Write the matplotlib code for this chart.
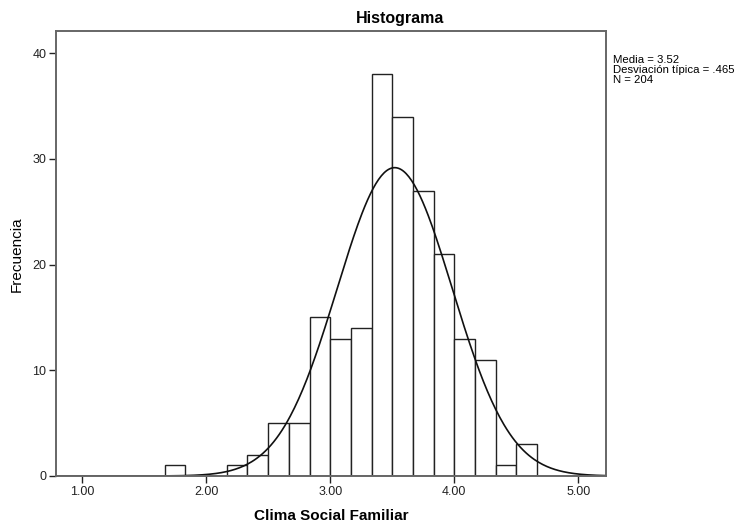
import numpy as np
import matplotlib.pyplot as plt

plt.rcParams['font.family'] = ['Liberation Sans', 'DejaVu Sans']

# bin edges start at 1.6667, width 1/6
bin_start = 5 / 3
bin_width = 1 / 6
counts = [1, 0, 0, 1, 2, 5, 5, 15, 13, 14, 38, 34, 27, 21, 13, 11, 1, 3]
media = 3.52
desv = 0.465
n_total = 204

xticks = [1, 2, 3, 4, 5]
xtick_labels = ['1.00', '2.00', '3.00', '4.00', '5.00']
yticks = [0, 10, 20, 30, 40]

fig = plt.figure(figsize=(7.4, 5.27), dpi=100)
ax = fig.add_axes([56 / 740, 1 - 476 / 527, 550 / 740, (476 - 31.5) / 527])

lefts = bin_start + bin_width * np.arange(len(counts))
ax.bar(lefts, counts, width=bin_width, align='edge', facecolor='white',
       edgecolor='#222222', linewidth=1.0)

# normal curve from the reported mean / sd
xs = np.linspace(0.79, 5.223, 400)
ys = n_total * bin_width / (desv * np.sqrt(2 * np.pi)) * np.exp(-0.5 * ((xs - media) / desv) ** 2)
ax.plot(xs, ys, color='#111111', linewidth=1.2)

ax.set_xlim(0.79, 5.223)
ax.set_ylim(0, 42.05)
ax.set_xticks(xticks)
ax.set_xticklabels(xtick_labels)
ax.set_yticks(yticks)
ax.tick_params(direction='out', length=5, width=1, labelsize=9, colors='#222222', pad=2)
for s in ax.spines.values():
    s.set_color('#666666')
    s.set_linewidth(1.4)

ax.set_xlabel('Clima Social Familiar', fontsize=11, fontweight='bold', labelpad=8)
ax.set_ylabel('Frecuencia', fontsize=11, labelpad=6)
fig.text(400 / 740, 1 - 18 / 527, 'Histograma', fontsize=11.5, fontweight='bold',
         ha='center', va='center')

fig.text(613 / 740, 1 - 55 / 527,
         'Media = 3.52\nDesviación típica = .465\nN = 204',
         fontsize=8.2, ha='left', va='top', linespacing=1.0)

fig.savefig('out.png', dpi=100)
